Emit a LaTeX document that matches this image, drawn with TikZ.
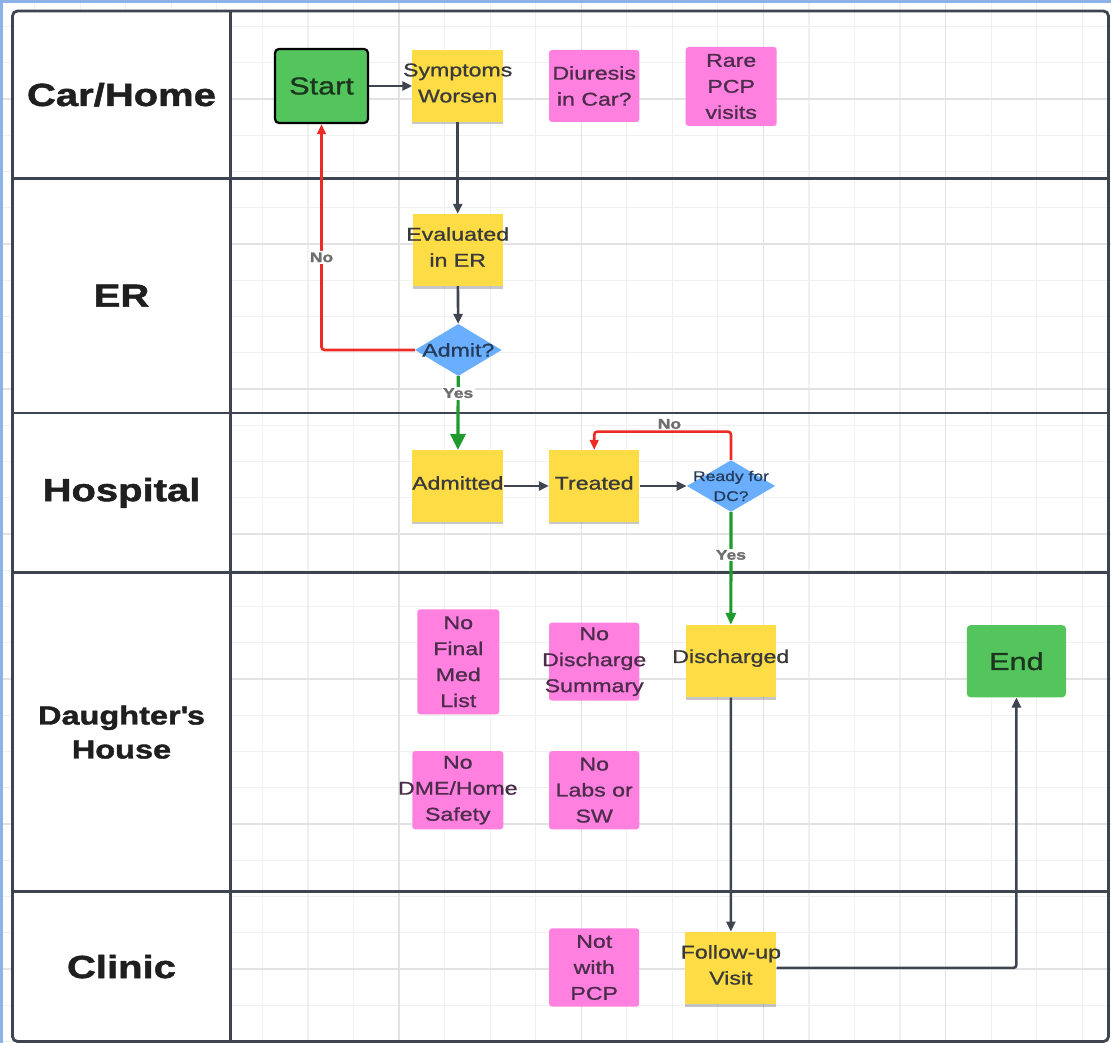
\documentclass[tikz,border=0pt]{standalone}
\usepackage{fontspec}
\setmainfont{Liberation Sans}[FakeStretch=1.25,BoldFeatures={FakeBold=1.5}]
\newfontfamily\notefont{Liberation Sans}[FakeStretch=1.25,FakeBold=1]
\usetikzlibrary{arrows.meta,shapes.geometric,shadows}
\definecolor{FlowLine}{HTML}{3E4450}
\definecolor{FlowRed}{HTML}{EC2B25}
\definecolor{FlowGreen}{HTML}{1E9B2C}
\definecolor{NoteYellow}{HTML}{FDDC45}
\definecolor{NotePink}{HTML}{FF80DF}
\definecolor{NoteBlue}{HTML}{6AAFFF}
\definecolor{NoteGreen}{HTML}{54C45D}
\definecolor{NoteText}{HTML}{3A3A3A}
\definecolor{PinkText}{HTML}{4B2C4A}
\definecolor{BlueText}{HTML}{243B5A}
\definecolor{TermText}{HTML}{1C351E}
\definecolor{GridMinor}{HTML}{F0F0F0}
\definecolor{GridMajor}{HTML}{E2E2E2}
\definecolor{FrameBlue}{HTML}{8DB2E8}
\definecolor{LabelGray}{HTML}{6E6E6E}

\tikzset{
  lane/.style={FlowLine,line width=2.8pt},
  lanelabel/.style={font=\bfseries\fontsize{32}{38}\selectfont,text=black!88,align=center},
  ntext/.style={font=\notefont\fontsize{18.5}{26}\selectfont,text=NoteText,align=center,inner sep=0pt},
  ptext/.style={ntext,text=PinkText},
  btext/.style={ntext,text=BlueText},
  ynote/.style={rectangle,fill=NoteYellow,inner sep=0pt,
    drop shadow={shadow xshift=0pt,shadow yshift=-2.5pt,opacity=.22,fill=black}},
  pnote/.style={rectangle,rounded corners=3pt,fill=NotePink,inner sep=0pt},
  decide/.style={diamond,fill=NoteBlue,inner sep=0pt},
  term/.style={rectangle,rounded corners=4pt,fill=NoteGreen,inner sep=0pt,
    font=\notefont\fontsize{24.5}{28}\selectfont,text=TermText},
  lbl/.style={font=\bfseries\fontsize{14}{16}\selectfont,text=LabelGray,fill=white,inner sep=1.5pt},
  flow/.style={FlowLine,line width=2.6pt,-{Triangle[length=10pt,width=9pt]}},
  noflow/.style={FlowRed,line width=2.6pt,rounded corners=3pt,-{Triangle[length=10pt,width=8.5pt]}},
  yesflow/.style={FlowGreen,line width=3.2pt,-{Triangle[length=12pt,width=10pt]}},
}

\begin{document}
\begin{tikzpicture}[x=1pt,y=-1pt]
\path[use as bounding box] (0,0) rectangle (1111,1043);
\fill[white] (0,0) rectangle (1111,1043);
% grid
\foreach \k in {0,...,23}
  \draw[GridMinor,line width=1.2pt] ({34.6+45.55*\k},0) -- ({34.6+45.55*\k},1043);
\foreach \k in {0,...,28}
  \draw[GridMinor,line width=1.2pt] (0,{26.5+36.25*\k}) -- (1111,{26.5+36.25*\k});
\foreach \k in {8,12,16,20}
  \draw[GridMajor,line width=1.4pt] ({34.6+45.55*\k},0) -- ({34.6+45.55*\k},1043);
\foreach \k in {2,6,...,26}
  \draw[GridMajor,line width=1.4pt] (0,{26.5+36.25*\k}) -- (1111,{26.5+36.25*\k});
\fill[FrameBlue] (0,0) rectangle (1111,3);
\fill[FrameBlue] (0,0) rectangle (3,1043);

% swim lanes
\fill[white] (12.5,11) rectangle (230.5,1041.5);
\draw[lane,rounded corners=5pt] (12.5,11) rectangle (1108.5,1041.5);
\draw[lane] (230.5,11) -- (230.5,1041.5);
\foreach \y in {178.5,413,572.7,891.7}
  \draw[lane] (12.5,\y) -- (1108.5,\y);
\node[lanelabel] (lcar) at (121.5,94.7) {Car/Home};
\node[lanelabel] (ler) at (121.5,295.7) {ER};
\node[lanelabel] (lhosp) at (121.5,492.9) {Hospital};
\node[lanelabel,font=\bfseries\fontsize{26}{34}\selectfont] (ldaught) at (121.5,732.2) {Daughter\textquotesingle s\\House};
\node[lanelabel] (lclinic) at (121.5,966.6) {Clinic};

% car/home
\node[term,draw=black,line width=2.2pt,minimum width=93pt,minimum height=74pt] (start) at (321.5,86) {Start};
\node[ynote,minimum width=90.5pt,minimum height=72pt,label={[ntext,yshift=3pt]center:Symptoms\\Worsen}] (sympt) at (457.7,86) {};
\node[pnote,minimum width=90.4pt,minimum height=72pt,label={[ptext]center:Diuresis\\in Car?}] (diur) at (594.2,86) {};
\node[pnote,minimum width=91pt,minimum height=79pt,label={[ptext]center:Rare\\PCP\\visits}] (rarepcp) at (731.2,86.5) {};

% er
\node[ynote,minimum width=90pt,minimum height=72pt,label={[ntext,yshift=3pt]center:Evaluated\\in ER}] (evaler) at (457.7,250) {};
\node[decide,minimum width=86.7pt,minimum height=52pt,label={[btext]center:Admit?}] (admitq) at (458.3,350) {};

% hospital
\node[ynote,minimum width=91pt,minimum height=71.7pt,label={[ntext,yshift=3pt]center:Admitted}] (admitted) at (457.8,486) {};
\node[ynote,minimum width=90.3pt,minimum height=71.7pt,label={[ntext,yshift=3pt]center:Treated}] (treated) at (594.2,486) {};
\node[decide,minimum width=88.3pt,minimum height=51.7pt,
  label={[btext,font=\notefont\fontsize{14}{20}\selectfont]center:Ready for\\DC?}] (readydc) at (731,486) {};

% daughter's house
\node[pnote,minimum width=82pt,minimum height=105pt,label={[ptext]center:No\\Final\\Med\\List}] (nomed) at (458.3,661.8) {};
\node[pnote,minimum width=90.3pt,minimum height=78pt,label={[ptext]center:No\\Discharge\\Summary}] (nosumm) at (594.2,661.7) {};
\node[ynote,minimum width=90.3pt,minimum height=72.3pt,label={[ntext,yshift=3pt]center:Discharged}] (dischd) at (730.8,661.2) {};
\node[term,minimum width=99.3pt,minimum height=72.3pt] (endn) at (1016.4,661.2) {End};
\node[pnote,minimum width=91pt,minimum height=78.3pt,label={[ptext]center:No\\DME/Home\\Safety}] (nodme) at (457.8,790.2) {};
\node[pnote,minimum width=90.3pt,minimum height=78.3pt,label={[ptext]center:No\\Labs or\\SW}] (nolabs) at (594.2,790.2) {};

% clinic
\node[pnote,minimum width=90pt,minimum height=78.4pt,label={[ptext]center:Not\\with\\PCP}] (notpcp) at (594.2,967.5) {};
\node[ynote,minimum width=90.9pt,minimum height=72.3pt,label={[ntext,yshift=3pt]center:Follow-up\\Visit}] (followup) at (730.9,967.9) {};

% connectors
\draw[flow] (start) -- (sympt);
\draw[flow] (sympt) -- (evaler);
\draw[flow] (evaler) -- (admitq);
\draw[noflow] (admitq.west) -| node[lbl,pos=0.705] {No} (start.south);
\draw[yesflow,-{Triangle[length=16pt,width=15pt]}] (admitq) -- node[lbl,pos=0.23] {Yes} (admitted);
\draw[flow] (admitted) -- (treated);
\draw[flow] (treated) -- (readydc);
\draw[noflow] (readydc.north) -- ++(0,-28.3) -| node[lbl,fill=none,pos=0.225,above=0pt] {No} (treated.north);
\draw[yesflow] (readydc) -- node[lbl,pos=0.38] {Yes} (dischd);
\draw[flow] (dischd) -- (followup);
\draw[flow,rounded corners=3pt] (followup.east) -| (endn.south);
\end{tikzpicture}
\end{document}
